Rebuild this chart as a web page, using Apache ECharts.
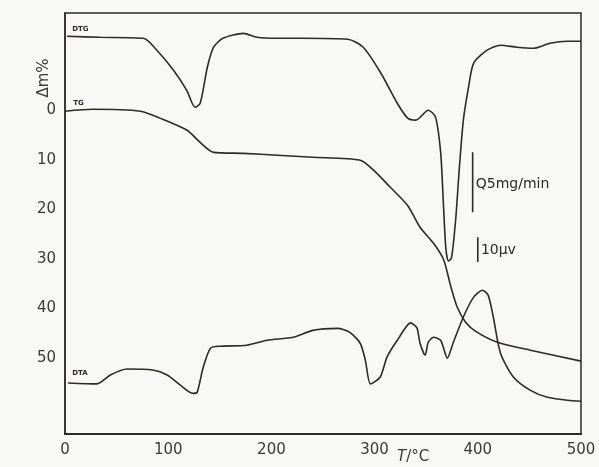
<!DOCTYPE html>
<html>
<head>
<meta charset="utf-8">
<script src="https://cdn.jsdelivr.net/npm/echarts@6/dist/echarts.min.js"></script>
<style>
  html, body { margin: 0; padding: 0; background: #f8f9f6; }
  #chart { width: 599px; height: 467px; }
</style>
</head>
<body>
<div id="chart"></div>
<script>
// curves: [T / °C, position on the Δm% scale]
const dtg = [
  [2, -14.9], [34, -14.7], [76, -14.5], [89, -12.1], [105, -8.1], [118, -4.0],
  [126, -0.6], [131, -1.4], [138, -8.7], [144, -12.7], [153, -14.5], [173, -15.5],
  [186, -14.7], [206, -14.5], [228, -14.5], [274, -14.3], [289, -12.7], [306, -7.5],
  [322, -1.4], [332, 1.6], [340, 2.0], [352, 0.0], [359, 1.4], [364, 8.5],
  [366.5, 18.1], [369, 27.8], [371.5, 30.4], [374.5, 29.8], [378.5, 22.2],
  [382, 12.0], [386, 2.0], [391, -4.6], [396, -9.5], [409, -12.1], [422, -13.1],
  [438, -12.7], [454, -12.5], [470, -13.5], [487, -13.9], [500, -13.9]
];

const tg = [
  [0, 0.2], [27, -0.2], [73, 0.2], [92, 1.6], [118, 4.0], [131, 6.5], [144, 8.5],
  [173, 8.7], [206, 9.1], [240, 9.5], [286, 10.1], [299, 12.1], [315, 15.5],
  [332, 19.2], [344, 23.6], [357, 26.8], [367, 30.2], [373.5, 35.3], [380, 39.7],
  [388, 42.7], [398, 44.6], [419, 46.8], [451, 48.4], [500, 50.6]
];

const dta = [
  [3, 55.0], [31, 55.2], [44, 53.4], [60, 52.2], [85, 52.4], [99, 53.4],
  [111.5, 55.4], [124, 57.1], [128, 56.9], [134, 51.8], [141, 48.0], [150, 47.6],
  [176, 47.4], [196, 46.4], [221, 45.8], [240, 44.4], [264, 44.0], [276, 44.8],
  [286, 47.0], [291, 50.4], [296, 55.2], [305.5, 53.8], [312, 49.8], [322, 46.4],
  [335, 42.9], [341, 43.9], [344, 47.0], [349, 49.4], [352, 46.8], [357, 45.8],
  [364, 46.4], [370.5, 50.0], [376, 47.0], [386, 41.7], [396, 37.7], [404.5, 36.3],
  [410, 37.3], [415, 41.7], [422, 49.0], [434.5, 53.8], [451, 56.5], [467.5, 57.9],
  [487, 58.5], [500, 58.7]
];

const xTicks = [0, 100, 200, 300, 400, 500];
const yTicks = [0, 10, 20, 30, 40, 50];

// scale bars: [T, from, to]
const barDtg = [395, 8.5, 20.6];
const barDta = [400, 25.6, 30.6];

const ink = "#2e2a24";
const font = "DejaVu Sans";

const chart = echarts.init(document.getElementById("chart"));

function curve(name, data) {
  return {
    name: name,
    type: "line",
    data: data,
    showSymbol: false,
    smooth: 0.25,
    lineStyle: { color: ink, width: 1.6 },
    animation: false
  };
}

function bar(b) {
  return {
    type: "line",
    data: [[b[0], b[1]], [b[0], b[2]]],
    showSymbol: false,
    lineStyle: { color: ink, width: 1.6 },
    animation: false
  };
}

chart.setOption({
  backgroundColor: "#f8f9f6",
  grid: {
    left: 65, right: 18, top: 13, bottom: 33,
    show: true, borderColor: ink, borderWidth: 1.5
  },
  xAxis: {
    type: "value",
    min: 0, max: 500, interval: 100,
    axisLine: { onZero: false, lineStyle: { color: ink, width: 1.8 } },
    axisTick: { show: false },
    splitLine: { show: false },
    axisLabel: {
      color: "#3a3a3a", fontSize: 15, fontFamily: font, margin: 9,
      customValues: xTicks
    }
  },
  yAxis: {
    type: "value",
    inverse: true,
    min: -19.6, max: 65.3,
    axisLine: { show: true, onZero: false, lineStyle: { color: ink, width: 1.5 } },
    axisTick: { show: false },
    splitLine: { show: false },
    axisLabel: {
      color: "#3a3a3a", fontSize: 15, fontFamily: font, margin: 9,
      customValues: yTicks
    }
  },
  series: [
    curve("DTG", dtg),
    curve("TG", tg),
    curve("DTA", dta),
    bar(barDtg),
    bar(barDta)
  ]
});

// annotations placed through the axes
const px = (t, v) => chart.convertToPixel({ gridIndex: 0 }, [t, v]);
const small = { fill: ink, fontFamily: font, fontSize: 7, fontWeight: "bold" };

function note(text, t, v, style) {
  const p = px(t, v);
  return {
    type: "text", x: p[0], y: p[1],
    style: Object.assign({ text: text, verticalAlign: "middle" }, small, style || {})
  };
}

chart.setOption({
  graphic: [
    note("DTG", 7, -16.4),
    note("TG", 8, -1.4),
    note("DTA", 7, 53),
    note("Q5mg/min", barDtg[0] + 3, 15, { fontSize: 14, fontWeight: "normal" }),
    note("10μv", barDta[0] + 3, 28.2, { fontSize: 14, fontWeight: "normal" }),
    {
      type: "text", x: 44, y: 78, rotation: Math.PI / 2,
      style: {
        text: "Δm%", fill: "#3a3a3a", fontFamily: font, fontSize: 15,
        align: "center", verticalAlign: "middle"
      }
    },
    {
      type: "text", x: 397, y: 457,
      style: {
        text: "{i|T}/°C", fill: "#3a3a3a", fontFamily: font, fontSize: 15,
        verticalAlign: "middle",
        rich: { i: { fontStyle: "italic", fontFamily: font, fontSize: 15, fill: "#3a3a3a" } }
      }
    }
  ]
});
</script>
</body>
</html>
